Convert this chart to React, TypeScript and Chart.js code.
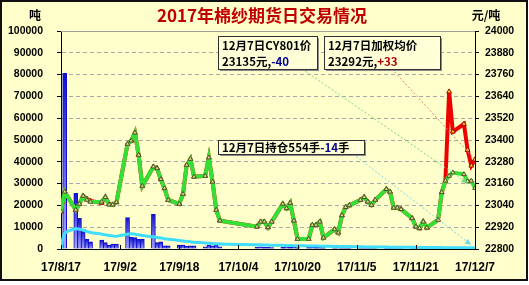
import React, { useEffect, useRef } from 'react';
import { Chart, registerables } from 'chart.js';

Chart.register(...registerables);

const title = '2017年棉纱期货日交易情况';
const leftUnit = '吨';
const rightUnit = '元/吨';

const dates = [
  '2017-08-17', '2017-08-18', '2017-08-21', '2017-08-22', '2017-08-23', '2017-08-24', '2017-08-25',
  '2017-08-28', '2017-08-29', '2017-08-30', '2017-08-31', '2017-09-01',
  '2017-09-04', '2017-09-05', '2017-09-06', '2017-09-07', '2017-09-08',
  '2017-09-11', '2017-09-12', '2017-09-13', '2017-09-14', '2017-09-15',
  '2017-09-18', '2017-09-19', '2017-09-20', '2017-09-21', '2017-09-22',
  '2017-09-25', '2017-09-26', '2017-09-27', '2017-09-28', '2017-09-29',
  '2017-10-09', '2017-10-10', '2017-10-11', '2017-10-12', '2017-10-13',
  '2017-10-16', '2017-10-17', '2017-10-18', '2017-10-19', '2017-10-20',
  '2017-10-23', '2017-10-24', '2017-10-25', '2017-10-26', '2017-10-27',
  '2017-10-30', '2017-10-31', '2017-11-01', '2017-11-02', '2017-11-03',
  '2017-11-06', '2017-11-07', '2017-11-08', '2017-11-09', '2017-11-10',
  '2017-11-13', '2017-11-14', '2017-11-15', '2017-11-16', '2017-11-17',
  '2017-11-20', '2017-11-21', '2017-11-22', '2017-11-23', '2017-11-24',
  '2017-11-27', '2017-11-28', '2017-11-29', '2017-11-30', '2017-12-01',
  '2017-12-04', '2017-12-05', '2017-12-06', '2017-12-07',
];

// 成交量（吨）
const volume = [
  0, 80600, 25500, 14100, 9000, 4400, 3300,
  4100, 2900, 1800, 2300, 2300,
  14400, 5400, 5200, 4400, 4400,
  15900, 2900, 3300, 1400, 1400,
  1800, 1800, 1200, 1400, 1400,
  1000, 1800, 1400, 1800, 1000,
  900, 1000, 800, 900, 700,
  800, 1200, 900, 1000, 600,
  900, 1000, 800, 900, 600,
  700, 1000, 900, 800, 700,
  800, 900, 700, 600, 500,
  400, 400, 300, 300, 300,
  300, 200, 300, 200, 200,
  200, 300, 300, 400, 300,
  300, 300, 200, 200,
];

// 持仓
const openInterest = [
  0, 7200, 9300, 9100, 8600, 8100, 7600,
  6800, 6500, 6200, 6000, 5800,
  6800, 7000, 6800, 6500, 6200,
  5600, 5300, 5000, 4700, 4500,
  3900, 3700, 3500, 3300, 3100,
  2800, 2600, 2500, 2400, 2300,
  1900, 1900, 1800, 1800, 1700,
  1700, 1600, 1600, 1500, 1500,
  1400, 1400, 1400, 1300, 1300,
  1200, 1200, 1100, 1100, 1100,
  1000, 1000, 950, 950, 900,
  900, 850, 850, 800, 800,
  750, 750, 700, 700, 680,
  650, 640, 620, 600, 590,
  580, 570, 568, 554,
];

// CY801价（元/吨）
const cyPrice = [
  23005, 23115, 23015, 23048, 23092, 23070, 23059,
  23060, 23085, 23044, 23044, 23057,
  23378, 23396, 23440, 23317, 23147,
  23253, 23244, 23184, 23134, 23070,
  23048, 23103, 23262, 23295, 23198,
  23202, 23303, 23170, 23015, 22956,
  22923, 22950, 22950, 22919, 22950,
  23048, 23024, 23053, 22956, 22855,
  22855, 22932, 22932, 22950, 22862,
  22908, 22890, 22985, 23030, 23040,
  23070, 23085, 23060, 23042, 23070,
  23129, 23115, 23027, 23027, 23019,
  22969, 22923, 22914, 22950, 22917,
  22960, 23112, 23176, 23202, 23221,
  23211, 23172, 23175, 23135,
];

// 加权均价（元/吨）
const avgPrice = [
  23005, 23115, 23015, 23048, 23092, 23076, 23064,
  23054, 23085, 23048, 23044, 23057,
  23378, 23396, 23440, 23317, 23147,
  23253, 23244, 23184, 23134, 23070,
  23048, 23103, 23262, 23295, 23198,
  23202, 23303, 23170, 23015, 22956,
  22923, 22950, 22950, 22919, 22950,
  23048, 23024, 23053, 22956, 22855,
  22855, 22932, 22932, 22950, 22862,
  22908, 22890, 22985, 23030, 23040,
  23070, 23085, 23060, 23042, 23070,
  23129, 23115, 23027, 23027, 23019,
  22969, 22923, 22914, 22950, 22917,
  22960, 23112, 23176, 23666, 23446,
  23488, 23345, 23259, 23292,
];

const xTickDates = ['2017-08-17', '2017-09-02', '2017-09-18', '2017-10-04', '2017-10-20', '2017-11-05', '2017-11-21', '2017-12-07'];
const xTickLabels = ['17/8/17', '17/9/2', '17/9/18', '17/10/4', '17/10/20', '17/11/5', '17/11/21', '17/12/7'];
const leftTicks = [0, 10000, 20000, 30000, 40000, 50000, 60000, 70000, 80000, 90000, 100000];
const rightTicks = [22800, 22920, 23040, 23160, 23280, 23400, 23520, 23640, 23760, 23880, 24000];

const cyLabel = ['12月7日CY801价', '23135元,', '-40'];
const avgLabel = ['12月7日加权均价', '23292元,', '+33'];
const oiLabel = ['12月7日持仓554手', '-14', '手'];

const dayOf = (s: string) => Math.round((Date.parse(s) - Date.parse(dates[0])) / 86400000);
const days = dates.map(dayOf);
const xTickDays = xTickDates.map(dayOf);
const pts = (arr: number[]) => arr.map((v, i) => ({ x: days[i], y: v }));

const BG = '#FFFFCC';
const CJK = '"Noto Sans CJK SC", "Noto Sans", sans-serif';
const NUM = '"Liberation Sans", Arial, sans-serif';

function drawBox(c: CanvasRenderingContext2D, x: number, y: number, w: number, h: number) {
  c.save();
  c.fillStyle = '#8C8C8C';
  c.fillRect(x + 2, y + 2, w, h);
  c.fillStyle = '#FFFFD8';
  c.fillRect(x, y, w, h);
  c.strokeStyle = '#303030';
  c.lineWidth = 1;
  c.strokeRect(x + 0.5, y + 0.5, w, h);
  c.restore();
}

function dotted(c: CanvasRenderingContext2D, x1: number, y1: number, x2: number, y2: number, color: string, stopShort: number, arrow: boolean) {
  const dx = x2 - x1, dy = y2 - y1;
  const len = Math.hypot(dx, dy);
  const ux = dx / len, uy = dy / len;
  const ex = x2 - ux * stopShort, ey = y2 - uy * stopShort;
  c.save();
  c.strokeStyle = color;
  c.lineWidth = 1;
  c.setLineDash([2, 2]);
  c.beginPath();
  c.moveTo(x1, y1);
  c.lineTo(ex, ey);
  c.stroke();
  c.setLineDash([]);
  if (arrow) {
    const s = 6, wd = 3;
    c.fillStyle = color;
    c.beginPath();
    c.moveTo(ex, ey);
    c.lineTo(ex - ux * s - uy * wd, ey - uy * s + ux * wd);
    c.lineTo(ex - ux * s + uy * wd, ey - uy * s - ux * wd);
    c.closePath();
    c.fill();
  }
  c.restore();
}

const deco = {
  id: 'deco',
  beforeDraw(chart: any) {
    const c = chart.ctx;
    c.save();
    c.fillStyle = BG;
    c.fillRect(0, 0, 528, 281);
    c.restore();
  },
  beforeDatasetsDraw(chart: any) {
    const c = chart.ctx;
    const a = chart.chartArea;
    c.save();
    c.strokeStyle = '#A0A0A0';
    c.lineWidth = 1;
    c.beginPath();
    c.moveTo(a.left, a.top + 0.5);
    c.lineTo(a.right, a.top + 0.5);
    c.stroke();
    c.restore();
  },
  afterDatasetsDraw(chart: any) {
    const c = chart.ctx;
    const a = chart.chartArea;
    const xs = chart.scales.x;
    const n = dates.length - 1;
    const gx = xs.getPixelForValue(days[n]);
    const gy = chart.scales.y1.getPixelForValue(cyPrice[n]);
    const ry = chart.scales.y1.getPixelForValue(avgPrice[n]);
    const cy = chart.scales.y.getPixelForValue(openInterest[n]);

    // x-axis inner ticks
    c.save();
    c.strokeStyle = '#000';
    c.lineWidth = 1;
    xTickDays.forEach((d) => {
      const px = Math.round(xs.getPixelForValue(d)) + 0.5;
      c.beginPath();
      c.moveTo(px, a.bottom);
      c.lineTo(px, a.bottom - 4);
      c.stroke();
    });
    c.restore();

    const b1 = { x: 218, y: 36, w: 99, h: 33 };
    const b2 = { x: 324, y: 36, w: 116, h: 33 };
    const b3 = { x: 218, y: 140, w: 146, h: 14 };

    dotted(c, b1.x + 84, b1.y + b1.h, gx, gy, '#78D878', 9, true);
    dotted(c, b2.x + 68, b2.y + b2.h, gx, ry, '#E87878', 0, false);
    dotted(c, b3.x + 135, b3.y + b3.h, gx, cy, '#70D8EA', 5, true);

    drawBox(c, b1.x, b1.y, b1.w, b1.h);
    drawBox(c, b2.x, b2.y, b2.w, b2.h);
    drawBox(c, b3.x, b3.y, b3.w, b3.h);

    c.save();
    c.font = `bold 11.5px ${CJK}`;
    c.textBaseline = 'middle';
    c.textAlign = 'left';
    c.fillStyle = '#000';
    c.fillText(cyLabel[0], b1.x + 4, b1.y + 10);
    c.fillText(cyLabel[1], b1.x + 4, b1.y + 26);
    let w = c.measureText(cyLabel[1]).width;
    c.fillStyle = '#000090';
    c.fillText(cyLabel[2], b1.x + 4 + w, b1.y + 26);

    c.fillStyle = '#000';
    c.fillText(avgLabel[0], b2.x + 4, b2.y + 10);
    c.fillText(avgLabel[1], b2.x + 4, b2.y + 26);
    w = c.measureText(avgLabel[1]).width;
    c.fillStyle = '#B00000';
    c.fillText(avgLabel[2], b2.x + 4 + w, b2.y + 26);

    c.fillStyle = '#000';
    c.fillText(oiLabel[0], b3.x + 4, b3.y + 7.5);
    w = c.measureText(oiLabel[0]).width;
    c.fillStyle = '#000090';
    c.fillText(oiLabel[1], b3.x + 4 + w, b3.y + 7.5);
    const w2 = c.measureText(oiLabel[1]).width;
    c.fillStyle = '#000';
    c.fillText(oiLabel[2], b3.x + 4 + w + w2, b3.y + 7.5);
    c.restore();
  },
  afterDraw(chart: any) {
    const c = chart.ctx;
    c.save();
    c.strokeStyle = '#101010';
    c.lineWidth = 2;
    c.strokeRect(1, 1, 526, 279);
    c.textBaseline = 'middle';
    c.textAlign = 'center';
    c.font = `bold 17px ${CJK}`;
    c.fillStyle = '#C00000';
    c.fillText(title, 262, 16);
    c.font = `bold 12px ${CJK}`;
    c.fillStyle = '#000';
    c.fillText(leftUnit, 35, 15);
    c.fillText(rightUnit, 486, 15);
    c.restore();
  },
};

export default function App() {
  const ref = useRef<HTMLCanvasElement | null>(null);
  useEffect(() => {
    if (!ref.current) return;
    const tickFont = { family: NUM, size: 10.5, weight: 'bold' as const };
    const chart = new Chart(ref.current, {
      type: 'bar',
      data: {
        datasets: [
          {
            type: 'line',
            label: 'CY801价',
            data: pts(cyPrice),
            yAxisID: 'y1',
            borderColor: '#33E033',
            borderWidth: 4,
            pointStyle: 'triangle',
            pointRadius: 2.6,
            pointBackgroundColor: '#E8E080',
            pointBorderColor: '#505030',
            pointBorderWidth: 1,
            tension: 0,
            order: 1,
          },
          {
            type: 'line',
            label: '加权均价',
            data: pts(avgPrice),
            yAxisID: 'y1',
            borderColor: '#EE0000',
            borderWidth: 4,
            pointStyle: 'triangle',
            pointRadius: 2.8,
            pointBackgroundColor: '#FFE000',
            pointBorderColor: '#A00000',
            pointBorderWidth: 1,
            tension: 0,
            order: 2,
          },
          {
            type: 'line',
            label: '持仓',
            data: pts(openInterest),
            yAxisID: 'y',
            borderColor: '#40DDFF',
            borderWidth: 3,
            pointRadius: 0,
            tension: 0.3,
            order: 3,
          },
          {
            type: 'bar',
            label: '成交量',
            data: pts(volume),
            yAxisID: 'y',
            barThickness: 4,
            borderColor: '#1010C8',
            borderWidth: 1,
            borderSkipped: 'bottom',
            backgroundColor: (ctx: any) => {
              const ch = ctx.chart;
              const area = ch.chartArea;
              if (!area || ctx.type !== 'data' || !ch.scales.y) return '#3030E0';
              const top = ch.scales.y.getPixelForValue(ctx.raw.y);
              if (area.bottom - top < 2) return '#3030E0';
              const g = ch.ctx.createLinearGradient(0, top, 0, area.bottom);
              g.addColorStop(0, '#1010D0');
              g.addColorStop(1, '#A8A8FF');
              return g;
            },
            order: 4,
          } as any,
        ],
      },
      options: {
        animation: false,
        responsive: false,
        devicePixelRatio: 1,
        layout: { padding: { top: 31, left: 0, right: 0, bottom: 0 } },
        plugins: { legend: { display: false }, tooltip: { enabled: false } },
        scales: {
          x: {
            type: 'linear',
            min: xTickDays[0],
            max: xTickDays[xTickDays.length - 1],
            offset: false,
            afterBuildTicks: (s: any) => { s.ticks = xTickDays.map((v) => ({ value: v })); },
            afterFit: (s: any) => { s.height = 36; },
            grid: { display: true, drawOnChartArea: false, drawTicks: false },
            border: { display: true, color: '#000', width: 1 },
            ticks: {
              padding: 11,
              autoSkip: false,
              maxRotation: 0,
              color: '#000',
              font: { family: NUM, size: 12, weight: 'bold' },
              callback: (_v: any, i: number) => xTickLabels[i],
            },
          },
          y: {
            type: 'linear',
            position: 'left',
            min: leftTicks[0],
            max: leftTicks[leftTicks.length - 1],
            afterBuildTicks: (s: any) => { s.ticks = leftTicks.map((v) => ({ value: v })); },
            afterFit: (s: any) => { s.width = 61; },
            grid: { color: '#A8A8A8', lineWidth: 1, tickColor: '#000', tickLength: 4 },
            border: { display: true, color: '#000', width: 1, dash: [4, 3] },
            ticks: { padding: 14, color: '#000', font: tickFont, callback: (v: any) => String(v) },
          },
          y1: {
            type: 'linear',
            position: 'right',
            min: rightTicks[0],
            max: rightTicks[rightTicks.length - 1],
            afterBuildTicks: (s: any) => { s.ticks = rightTicks.map((v) => ({ value: v })); },
            afterFit: (s: any) => { s.width = 54; },
            grid: { drawOnChartArea: false, tickColor: '#000', tickLength: 4 },
            border: { display: true, color: '#000', width: 1 },
            ticks: { padding: 6, color: '#000', font: tickFont, callback: (v: any) => String(v) },
          },
        },
      } as any,
      plugins: [deco],
    });
    return () => chart.destroy();
  }, []);
  return (
    <div style={{ position: 'fixed', left: 0, top: 0, width: 529, height: 285 }}>
      <canvas ref={ref} width={529} height={285} style={{ display: 'block' }} />
    </div>
  );
}
